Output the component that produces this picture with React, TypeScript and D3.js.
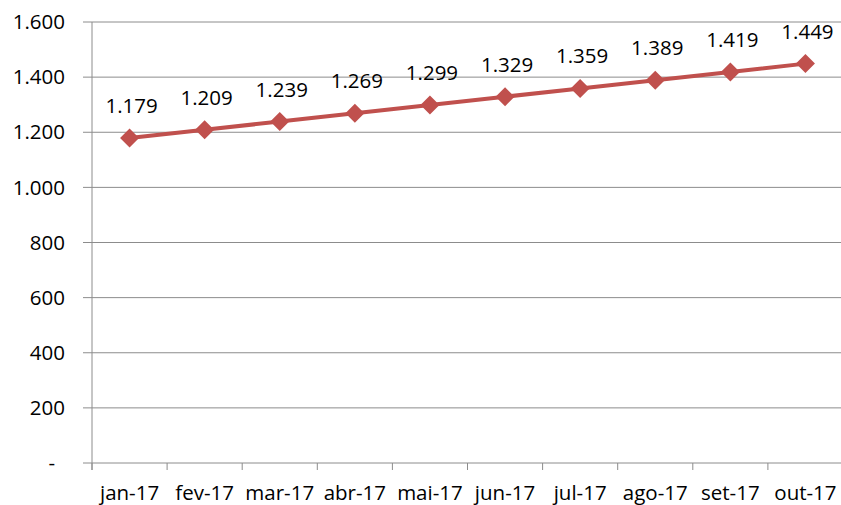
import React from "react";
import * as d3 from "d3";

const categories = ["jan-17", "fev-17", "mar-17", "abr-17", "mai-17", "jun-17", "jul-17", "ago-17", "set-17", "out-17"];
const values = [1179, 1209, 1239, 1269, 1299, 1329, 1359, 1389, 1419, 1449];
const yTicks = [0, 200, 400, 600, 800, 1000, 1200, 1400, 1600];

const W = 841;
const H = 505;
const FONT = "'Open Sans', 'Noto Sans', sans-serif";
const RED = "#C0504D";
const GRID = "#8c8c8c";
const FS = 20.5;

const fmt = (v: number) => (v === 0 ? "-" : d3.format(",")(v).replace(/,/g, "."));

export default function App() {
  const x = d3.scaleBand<string>().domain(categories).range([92, 843]).padding(0);
  const y = d3.scaleLinear().domain([0, 1600]).range([463, 22]);
  const cx = (c: string) => (x(c) ?? 0) + x.bandwidth() / 2;
  const line = d3
    .line<number>()
    .x((_, i) => cx(categories[i]))
    .y((d) => y(d));
  const boundaries = categories.map((c) => x(c) ?? 0).concat([843]);
  const ds = 9.5;

  return (
    <svg width={W} height={H} style={{ position: "absolute", left: 0, top: 0, background: "#fff" }}>
      {yTicks.map((t) => (
        <g key={t}>
          <line x1={83} x2={843} y1={y(t)} y2={y(t)} stroke={GRID} strokeWidth={1} />
          <text
            x={t === 0 ? 55 : 65}
            y={y(t)}
            dy="0.35em"
            textAnchor="end"
            fontFamily={FONT}
            fontSize={FS}
            fill="#000"
          >
            {fmt(t)}
          </text>
        </g>
      ))}
      <line x1={92} x2={92} y1={22} y2={470} stroke={GRID} strokeWidth={1} />
      {boundaries.map((b, i) => (
        <line key={i} x1={b} x2={b} y1={463} y2={470} stroke={GRID} strokeWidth={1} />
      ))}
      {categories.map((c) => (
        <text key={c} x={cx(c)} y={500} textAnchor="middle" fontFamily={FONT} fontSize={FS} fill="#000">
          {c}
        </text>
      ))}
      <path d={line(values) ?? ""} fill="none" stroke={RED} strokeWidth={4} strokeLinejoin="round" />
      {values.map((v, i) => {
        const px = cx(categories[i]);
        const py = y(v);
        return (
          <g key={i}>
            <path
              d={`M${px},${py - ds}L${px + ds},${py}L${px},${py + ds}L${px - ds},${py}Z`}
              fill={RED}
            />
            <text x={px + 2} y={py - 25} textAnchor="middle" fontFamily={FONT} fontSize={FS} fill="#000">
              {fmt(v)}
            </text>
          </g>
        );
      })}
    </svg>
  );
}
